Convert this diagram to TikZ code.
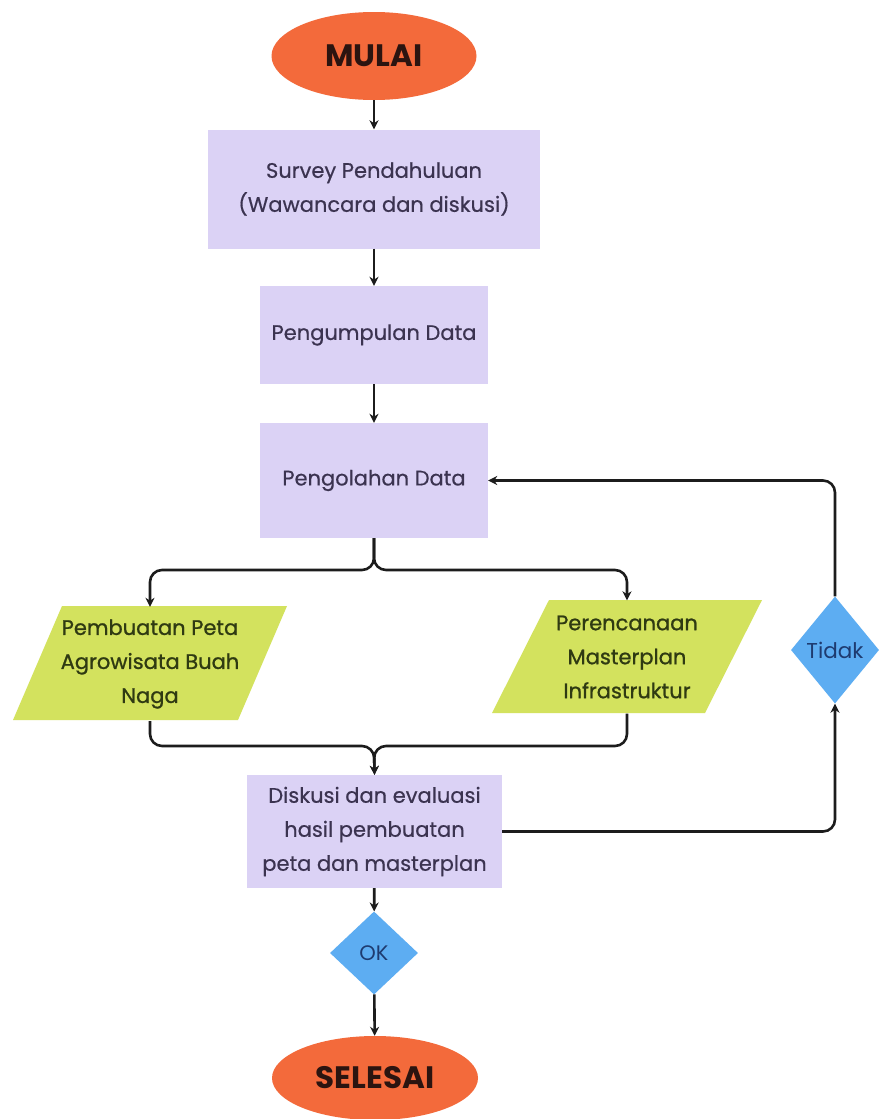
\documentclass[tikz,border=0pt]{standalone}
\usepackage{fontspec}
\setmainfont{Poppins}
\usetikzlibrary{shapes.geometric,arrows.meta}
\definecolor{termfill}{HTML}{F36A3B}
\definecolor{termtext}{HTML}{2B1410}
\definecolor{procfill}{HTML}{DBD2F5}
\definecolor{proctext}{HTML}{3B3350}
\definecolor{iofill}{HTML}{D3E25E}
\definecolor{iotext}{HTML}{2F3A12}
\definecolor{decfill}{HTML}{5DADF2}
\definecolor{dectext}{HTML}{1E3B70}
\definecolor{linec}{HTML}{1C1C1C}
\tikzset{
  term/.style={ellipse, fill=termfill, minimum width=205pt, minimum height=88pt, inner sep=0pt,
    text=termtext, font=\fontsize{31}{34}\selectfont\bfseries},
  proc/.style={rectangle, fill=procfill, inner sep=0pt, align=center, text=proctext,
    font=\fontsize{21}{34}\selectfont\addfontfeature{FakeBold=0.5}},
  iotxt/.style={rectangle, inner sep=0pt, align=center, text=iotext,
    font=\fontsize{21}{34}\selectfont\addfontfeature{FakeBold=1}},
  dec/.style={diamond, fill=decfill, inner sep=0pt, text=dectext},
  arr/.style={draw=linec, line width=2.6pt, -{Stealth[length=9pt,width=9pt]}},
}
\begin{document}
\begin{tikzpicture}[x=1pt,y=-1pt]
\useasboundingbox (0,0) rectangle (879,1119);
\fill[white] (0,0) rectangle (879,1119);

\node[term] (start) at (374,56) {MULAI};
\node[proc, minimum width=332pt, minimum height=119pt] (survey) at (374,189) {Survey Pendahuluan\\(Wawancara dan diskusi)};
\node[proc, minimum width=228pt, minimum height=98pt] (kumpul) at (374,335) {Pengumpulan Data};
\node[proc, minimum width=228pt, minimum height=115pt] (olah) at (374,480.5) {Pengolahan Data};

\fill[iofill] (62,606) -- (287,606) -- (238,720) -- (13,720) -- cycle;
\node[iotxt, minimum height=114pt] (peta) at (150,664) {Pembuatan Peta\\Agrowisata Buah\\Naga};
\fill[iofill] (549,600) -- (762,600) -- (705,713) -- (492,713) -- cycle;
\node[iotxt, minimum height=113pt] (plan) at (627,657) {Perencanaan\\Masterplan\\Infrastruktur};

\node[dec, minimum width=88pt, minimum height=107pt, font=\fontsize{21.5}{24}\selectfont] (tidak) at (835,650) {Tidak};

\node[proc, minimum width=255pt, minimum height=113pt] (diskusi) at (374.5,831.5) {Diskusi dan evaluasi\\hasil pembuatan\\peta dan masterplan};
\node[dec, minimum width=88pt, minimum height=83pt, font=\fontsize{21}{24}\selectfont] (ok) at (374,953) {OK};
\node[term, minimum width=206pt, minimum height=84pt] (selesai) at (375,1078) {SELESAI};

\draw[arr] (start) -- (survey);
\draw[arr] (survey) -- (kumpul);
\draw[arr] (kumpul) -- (olah);
\draw[arr, rounded corners=12pt] (olah.south) -- (374,570) -- (150,570) -- (peta.north);
\draw[arr, rounded corners=12pt] (olah.south) -- (374,570) -- (627,570) -- (plan.north);
\draw[arr, rounded corners=12pt] (peta.south) -- (150,746) -- (374,746) -- (diskusi.north);
\draw[arr, rounded corners=12pt] (plan.south) -- (627,746) -- (374,746) -- (diskusi.north);
\draw[arr, rounded corners=12pt] (diskusi.east) -| (tidak.south);
\draw[arr, rounded corners=12pt] (tidak.north) |- (olah.east);
\draw[arr] (diskusi) -- (ok);
\draw[arr] (ok) -- (selesai);
\end{tikzpicture}
\end{document}
